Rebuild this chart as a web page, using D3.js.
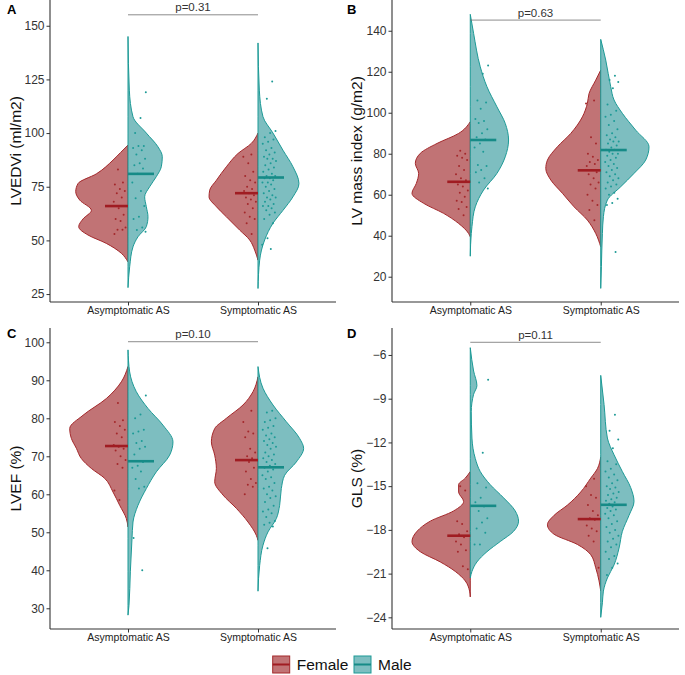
<!DOCTYPE html>
<html><head><meta charset="utf-8">
<script src="https://cdn.jsdelivr.net/npm/d3@7"></script>
<style>body{margin:0;background:#fff;} text{font-family:Arial,"Liberation Sans",sans-serif;}</style>
</head><body><svg id="c" width="685" height="675"></svg>
<script>
// ---------- DATA ----------
const groups = ["Asymptomatic AS", "Symptomatic AS"];
const sexes = ["Female", "Male"];
const panelLetters = ["A", "B", "C", "D"];
const yTitles = ["LVEDVi (ml/m2)", "LV mass index (g/m2)", "LVEF (%)", "GLS (%)"];
const pLabels = ["p=0.31", "p=0.63", "p=0.10", "p=0.11"];
const pBracketY = [155.1, 145.2, 100.15, -5.13];
const yDomains = [[21.3, 162.0], [7.66, 155.0], [24.55, 103.76], [-24.8, -4.15]];
const yTicks = [[25, 50, 75, 100, 125, 150], [20, 40, 60, 80, 100, 120, 140], [30, 40, 50, 60, 70, 80, 90, 100], [-24, -21, -18, -15, -12, -9, -6]];

// medians: [female asym, male asym, female sym, male sym]
const mediansA = [66, 81, 72, 79.3];
const mediansB = [66.3, 86.7, 71.9, 81.8];
const mediansC = [72.7, 68.7, 69, 67.1];
const mediansD = [-18.4, -16.35, -17.26, -16.28];

// individual observations
const ptsA_FA = [83, 77, 76, 74, 73, 72, 70, 68, 65, 62, 60, 59, 56, 55, 55, 53];
const ptsA_MA = [119, 107, 100, 94, 94, 93, 92, 90, 88, 86, 85, 83.5, 81, 77, 73, 69.6, 66, 61, 60, 56, 54.8, 54];
const ptsA_FS = [90, 89, 86, 82, 80, 78, 77, 75, 74, 73, 72, 71, 70, 69, 68, 67, 65, 63, 61, 60, 58, 53];
const ptsA_MS = [124, 116, 101, 100, 98, 97, 96, 95, 93, 92, 91, 90, 89, 88, 88, 87, 86, 85, 84, 83, 82, 81, 80, 80, 79, 79, 78, 77, 77, 76, 75, 74, 73, 72, 71, 70, 70, 69, 68, 67, 66, 66, 65, 64, 63, 62, 60, 58, 51, 48, 46];

const ptsB_FA = [81.5, 80, 79, 78, 77, 74, 72, 70, 68, 67, 65, 64, 62, 61, 59, 57, 56.5, 54, 53, 50];
const ptsB_MA = [123, 119, 106, 105, 102, 97, 96, 95, 92, 90, 88, 87, 85, 83, 81, 74.5, 74, 72, 71, 68, 66, 63];
const ptsB_FS = [106, 104.5, 88, 85, 80, 78.5, 77, 76, 75, 74, 72, 71, 70, 68, 66, 65, 63, 60, 57, 55, 52.5, 47.5];
const ptsB_MS = [118, 116, 115, 112, 104, 101, 99, 98, 96, 94, 92, 90, 89, 88, 87, 86, 86, 85, 84, 83, 82, 82, 81, 80, 80, 79, 78, 77, 76, 75, 74, 73, 72, 71, 70, 69, 68, 67, 66, 65, 64, 63, 61, 60, 58, 56, 55, 32];

const ptsC_FA = [84, 79.5, 79, 78, 77, 76, 75, 73, 72.5, 72, 71.5, 70, 69, 68, 67, 61, 58.5];
const ptsC_MA = [86, 81, 80, 77, 76.5, 76, 74, 73.5, 72.5, 72, 70.5, 68.5, 67.5, 67, 66, 64, 62, 61.5, 48.5, 40];
const ptsC_FS = [82, 79, 76.5, 76, 75, 72, 71, 70, 69.5, 69, 68.5, 67, 66, 64, 63, 62.5, 62, 60];
const ptsC_MS = [82, 81.5, 80, 79.5, 79, 78, 77.5, 77, 76, 75.5, 75, 74.5, 74, 73.5, 73, 72.5, 72, 71, 70.5, 70, 69.5, 69, 68.5, 68, 67.5, 67, 66.5, 66, 65, 64.5, 64, 63, 62, 61.5, 61, 60, 59.5, 59, 58, 57, 56, 55.5, 55, 54, 53, 52.5, 52, 51.5, 45.8];

const ptsD_FA = [-15, -15.3, -17.4, -17.6, -18.1, -18.3, -18.5, -18.8, -19, -19.4, -19.5, -20.5, -20.7];
const ptsD_MA = [-7.7, -12.7, -14.8, -15.1, -15.8, -16.1, -16.4, -16.7, -17.2, -17.5, -17.9, -18.2, -19, -19];
const ptsD_FS = [-14.5, -15, -15.6, -15.8, -16.3, -16.7, -17, -17.2, -17.3, -17.7, -17.9, -18.1, -18.4, -18.8, -20.6];
const ptsD_MS = [-10.1, -11.2, -11.8, -12.4, -13.3, -13.5, -13.8, -14, -14.2, -14.4, -14.6, -14.8, -15, -15.1, -15.2, -15.4, -15.5, -15.6, -15.8, -15.9, -16, -16.1, -16.2, -16.3, -16.4, -16.5, -16.6, -16.7, -16.9, -17, -17.2, -17.4, -17.6, -17.8, -18, -18.2, -18.4, -18.6, -18.8, -19, -19.2, -19.5, -19.8, -20, -20.3, -20.6, -21.1];

// violin density profiles: [value, relative density]
const densA_FA = [[40,0],[44,0.20],[48.6,0.65],[52.5,1.20],[56.4,1.48],[60,1.35],[64,1.10],[68.8,1.45],[72.7,1.57],[76.5,1.50],[81,0.95],[87.4,0.45],[91,0.22],[94.4,0]];
const densA_MA = [[28,0],[37.7,0.05],[47,0.15],[51.7,0.30],[56.4,0.55],[61,0.60],[65.7,0.55],[70.3,0.50],[75,0.65],[79.7,0.85],[84.3,1.00],[89,1.03],[93.6,0.90],[100,0.55],[107.6,0.15],[120,0.04],[145,0]];
const densA_FS = [[40.8,0],[45.5,0.10],[50.2,0.25],[54.8,0.55],[61,0.95],[65.7,1.25],[70.3,1.47],[73.4,1.45],[78,1.25],[84.3,0.95],[90.5,0.60],[95.2,0.20],[100,0]];
const densA_MS = [[27.6,0],[40.8,0.05],[50.2,0.20],[58,0.45],[64,0.75],[70.3,1.05],[76.5,1.23],[84.3,1.05],[92,0.75],[100,0.45],[107.6,0.15],[120,0.04],[142,0]];

const densB_FA = [[39.5,0],[41.1,0.05],[46,0.35],[50.9,0.80],[55.8,1.40],[60.7,1.75],[65.5,1.62],[70.4,1.55],[75.3,1.65],[80.2,1.50],[85,1.00],[89.9,0.35],[95.6,0]];
const densB_MA = [[30,0],[41.1,0.03],[44.4,0.05],[54.1,0.15],[62.3,0.40],[70.4,0.80],[78.5,1.05],[86.7,1.15],[94.8,1.05],[102.9,0.80],[112.7,0.50],[122.4,0.30],[138.7,0.10],[148,0]];
const densB_FS = [[34.6,0],[41.1,0.15],[47.6,0.40],[54.1,0.80],[60.7,1.15],[67.2,1.50],[72.8,1.65],[76.9,1.60],[83.4,1.30],[89.9,0.90],[98,0.55],[104.6,0.40],[109.4,0.35],[115.9,0.15],[120.8,0]];
const densB_MS = [[14.3,0],[24.9,0.02],[41.1,0.05],[49.3,0.08],[57.4,0.20],[63.9,0.60],[70.4,1.00],[76.9,1.35],[83.4,1.45],[91.5,1.05],[99.7,0.65],[106.2,0.40],[112.7,0.30],[125.7,0.15],[135.8,0]];

const densC_FA = [[51.4,0],[53.6,0.05],[57.1,0.25],[60.6,0.45],[64.2,0.70],[66.8,1.10],[69.4,1.40],[72.1,1.55],[74.7,1.70],[77.3,1.75],[80.8,1.35],[85.2,0.65],[89.6,0.20],[93.6,0]];
const densC_MA = [[28.2,0],[30.8,0.03],[39.6,0.07],[48.3,0.12],[52.7,0.15],[57.1,0.30],[61.5,0.55],[65.9,0.85],[70.3,1.25],[73.8,1.35],[78.2,1.05],[82.6,0.60],[87,0.25],[92.2,0.05],[98,0]];
const densC_FS = [[47.9,0],[49.2,0.05],[52.7,0.30],[56.3,0.65],[59.8,1.05],[63.3,1.30],[66.8,1.25],[70.3,1.30],[73.8,1.40],[77.3,1.30],[80,0.95],[83.5,0.45],[87,0.15],[90.9,0]];
const densC_MS = [[34.5,0],[41.3,0.05],[46.6,0.15],[50.1,0.30],[53.6,0.55],[57.1,0.65],[61.5,0.70],[65,0.80],[68.5,1.15],[72.1,1.37],[74.7,1.25],[79.1,0.85],[83.5,0.45],[87.9,0.15],[93.6,0]];

const densD_FA = [[-22.6,0],[-22.2,0.02],[-21.5,0.15],[-20.85,0.45],[-20.2,0.90],[-19.5,1.50],[-18.8,1.75],[-18.1,1.60],[-17.4,1.20],[-16.7,0.50],[-16.05,0.20],[-15.4,0.35],[-14.9,0.35],[-14.45,0.15],[-14,0]];
const densD_MA = [[-21.3,0],[-20.85,0.05],[-20.2,0.20],[-19.5,0.50],[-18.8,0.90],[-18.1,1.30],[-17.4,1.45],[-16.7,1.35],[-15.8,1.00],[-14.9,0.60],[-14,0.30],[-13.1,0.15],[-11.7,0.05],[-9.9,0.03],[-8.7,0.10],[-8.1,0.20],[-7.1,0.10],[-5.5,0]];
const densD_FS = [[-22.2,0],[-21.5,0.05],[-20.6,0.15],[-19.7,0.30],[-19,0.70],[-18.3,1.40],[-17.65,1.60],[-17,1.40],[-16.3,1.00],[-15.4,0.60],[-14.45,0.30],[-13.8,0.10],[-13,0]];
const densD_MS = [[-24,0],[-23,0.05],[-22.2,0.08],[-21.3,0.20],[-20.4,0.40],[-19.25,0.55],[-18.1,0.65],[-17,0.85],[-16.05,1.00],[-15.1,0.90],[-14,0.65],[-12.85,0.40],[-11.7,0.20],[-9.4,0.10],[-7.4,0]];

// ---------- BUILD ----------
const panelPts = [
  [ptsA_FA, ptsA_MA, ptsA_FS, ptsA_MS],
  [ptsB_FA, ptsB_MA, ptsB_FS, ptsB_MS],
  [ptsC_FA, ptsC_MA, ptsC_FS, ptsC_MS],
  [ptsD_FA, ptsD_MA, ptsD_FS, ptsD_MS]];
const panelDens = [
  [densA_FA, densA_MA, densA_FS, densA_MS],
  [densB_FA, densB_MA, densB_FS, densB_MS],
  [densC_FA, densC_MA, densC_FS, densC_MS],
  [densD_FA, densD_MA, densD_FS, densD_MS]];
const panelMed = [mediansA, mediansB, mediansC, mediansD];

const layout = [
  {x0: 50, x1: 336, y0: 0, y1: 302, labX: 7, labY: 14, titleX: 20.5},
  {x0: 392, x1: 679, y0: 0, y1: 302, labX: 347, labY: 14, titleX: 361.5},
  {x0: 50, x1: 336, y0: 328, y1: 629, labX: 7, labY: 338, titleX: 20.5},
  {x0: 392, x1: 679, y0: 328, y1: 629, labX: 347, labY: 338, titleX: 361.5}];

const style = {
  Female: {fill: "#c17375", stroke: "#a3282b", dot: "#a3282b", med: "#a01c22"},
  Male: {fill: "#7dbec0", stroke: "#1d9a96", dot: "#1d9a96", med: "#168b87"}
};

const svg = d3.select("#c");
const wScale = d3.scaleLinear().domain([0, 1]).range([0, 33.3]);

panelLetters.forEach((letter, pi) => {
  const L = layout[pi];
  const g = svg.append("g");
  const x = d3.scalePoint().domain(groups).range([L.x0, L.x1]).padding(0.6);
  const y = d3.scaleLinear().domain(yDomains[pi]).range([L.y1, L.y0]);

  // violins
  const combos = [[0, 0], [1, 0], [0, 1], [1, 1]]; // [sexIdx, groupIdx] order: FA, MA, FS, MS
  const order = [0, 2, 1, 3]; // draw females first
  order.forEach(k => {
    const [si, gi] = combos[k];
    const sex = sexes[si], st = style[sex];
    const cx = x(groups[gi]);
    const dir = si === 0 ? -1 : 1;
    const area = d3.area()
      .curve(d3.curveMonotoneY)
      .y(d => y(d[0]))
      .x0(cx)
      .x1(d => cx + dir * wScale(d[1]));
    g.append("path").datum(panelDens[pi][k]).attr("d", area)
      .attr("fill", st.fill).attr("stroke", st.stroke).attr("stroke-width", 1);
  });

  // points
  [0, 1, 2, 3].forEach(k => {
    const [si, gi] = combos[k];
    const st = style[sexes[si]];
    const cx = x(groups[gi]);
    const dir = si === 0 ? -1 : 1;
    g.append("g").selectAll("circle").data(panelPts[pi][k]).join("circle")
      .attr("cx", (d, i) => {
        const f = ((i + 1) * 0.6180339887 + k * 0.37) % 1;
        return cx + dir * (si === 0 ? 2 + 13 * f : 4 + 14 * f);
      })
      .attr("cy", d => y(d))
      .attr("r", 1)
      .attr("fill", st.dot);
  });

  // medians
  [0, 1, 2, 3].forEach(k => {
    const [si, gi] = combos[k];
    const st = style[sexes[si]];
    const cx = x(groups[gi]);
    const dir = si === 0 ? -1 : 1;
    const len = si === 0 ? 23 : 26;
    g.append("line")
      .attr("x1", cx).attr("x2", cx + dir * len)
      .attr("y1", y(panelMed[pi][k])).attr("y2", y(panelMed[pi][k]))
      .attr("stroke", st.med).attr("stroke-width", 2.6);
  });

  // axes
  const ya = g.append("g").attr("transform", `translate(${L.x0},0)`)
    .call(d3.axisLeft(y).tickValues(yTicks[pi]).tickSize(3.5).tickPadding(2));
  ya.select(".domain").attr("d", `M0,${L.y0}V${L.y1}`).attr("stroke", "#333").attr("stroke-width", 1.1);
  ya.selectAll(".tick line").attr("stroke", "#333");
  ya.selectAll(".tick text").attr("fill", "#333").style("font-size", "12px");

  const xa = g.append("g").attr("transform", `translate(0,${L.y1})`)
    .call(d3.axisBottom(x).tickSize(3.5).tickPadding(1.5));
  xa.select(".domain").attr("d", `M${L.x0},0H${L.x1}`).attr("stroke", "#333").attr("stroke-width", 1.1);
  xa.selectAll(".tick line").attr("stroke", "#333");
  xa.selectAll(".tick text").attr("fill", "#222").style("font-size", "10.5px");

  // y title
  g.append("text")
    .attr("transform", `translate(${L.titleX},${(L.y0 + L.y1) / 2}) rotate(-90)`)
    .attr("text-anchor", "middle").style("font-size", "15.5px").attr("fill", "#111")
    .text(yTitles[pi]);

  // panel letter
  g.append("text").attr("x", L.labX).attr("y", L.labY)
    .style("font-size", "13px").style("font-weight", "bold").attr("fill", "#000")
    .text(letter);

  // p-value bracket
  const by = y(pBracketY[pi]);
  g.append("line").attr("x1", x(groups[0])).attr("x2", x(groups[1]))
    .attr("y1", by).attr("y2", by).attr("stroke", "#6f6f6f").attr("stroke-width", 0.8);
  g.append("text").attr("x", (x(groups[0]) + x(groups[1])) / 2).attr("y", by - 3.5)
    .attr("text-anchor", "middle").style("font-size", "11.5px").attr("fill", "#333")
    .text(pLabels[pi]);
});

// legend
const legX = [272.7, 354];
sexes.forEach((s, i) => {
  const st = style[s];
  const lg = svg.append("g");
  lg.append("rect").attr("x", legX[i]).attr("y", 656).attr("width", 17).attr("height", 17)
    .attr("fill", st.fill).attr("stroke", st.stroke).attr("stroke-width", 1);
  lg.append("line").attr("x1", legX[i]).attr("x2", legX[i] + 17).attr("y1", 664.5).attr("y2", 664.5)
    .attr("stroke", st.med).attr("stroke-width", 2);
  lg.append("text").attr("x", legX[i] + 24).attr("y", 670)
    .style("font-size", "15.5px").attr("fill", "#111").text(s);
});
</script>
</body></html>
